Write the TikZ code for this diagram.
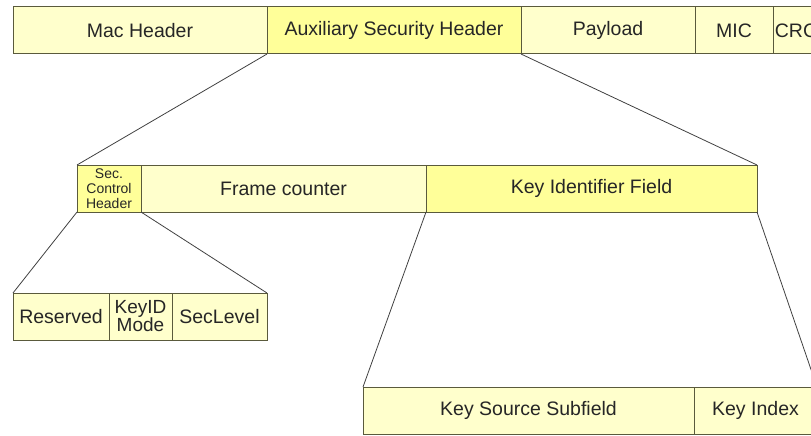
\documentclass[tikz,border=0pt]{standalone}
\usepackage{fontspec}
\setmainfont{Liberation Sans}
\usetikzlibrary{positioning}

\definecolor{paleyellow}{HTML}{FFFFCC}
\definecolor{brightyellow}{HTML}{FFFF99}
\definecolor{fieldline}{HTML}{5A5A3C}

\tikzset{
  field/.style={draw=fieldline, line width=1pt, fill=paleyellow, anchor=north west,
    inner sep=0pt, outer sep=0pt, minimum height=47pt, align=center, text=black!85,
    font=\fontsize{19.5}{20}\selectfont},
  hifield/.style={field, fill=brightyellow},
  zoomline/.style={draw=black!75, line width=0.8pt}
}

\begin{document}
\begin{tikzpicture}[x=1pt, y=-1pt]
		\useasboundingbox (0,0) rectangle (811,436);
		\clip (0,0) rectangle (811,436);

		% Frame fields
		\node[field, minimum width=254pt] (mac) at (13,7) {Mac Header};
		\node[hifield, minimum width=254pt] (aux) at (267,7) {Auxiliary Security Header};
		\node[field, minimum width=174pt] (payload) at (521,7) {Payload};
		\node[field, minimum width=78pt] (mic) at (695,7) {MIC};
		\node[field, minimum width=46pt] (crc) at (773,7) {CRC};

		% Auxiliary security header fields
		\node[hifield, minimum width=64pt, font=\fontsize{14}{14.7}\selectfont] (sec) at (77,165) {Sec.\\Control\\Header};
		\node[field, minimum width=285pt] (frame) at (141,165) {Frame counter};
		\node[hifield, minimum width=331pt] (keyid) at (426,165) {Key Identifier Field};

		% Security control fields
		\node[field, minimum width=96pt] (reserved) at (13,293) {Reserved};
		\node[field, minimum width=63pt, font=\fontsize{19}{18}\selectfont] (mode) at (109,293) {KeyID\\Mode};
		\node[field, minimum width=95pt] (level) at (172,293) {SecLevel};

		% Key identifier fields
		\node[field, minimum width=331pt] (source) at (363,387) {Key Source Subfield};
		\node[field, minimum width=123pt] (index) at (694,387) {Key Index};

		% Draw the lines
		\draw[zoomline] (aux.south west) -- (sec.north west);
		\draw[zoomline] (aux.south east) -- (keyid.north east);
		\draw[zoomline] (sec.south west) -- (reserved.north west);
		\draw[zoomline] (sec.south east) -- (level.north east);
		\draw[zoomline] (keyid.south west) -- (source.north west);
		\draw[zoomline] (keyid.south east) -- (index.north east);
	\end{tikzpicture}
\end{document}
